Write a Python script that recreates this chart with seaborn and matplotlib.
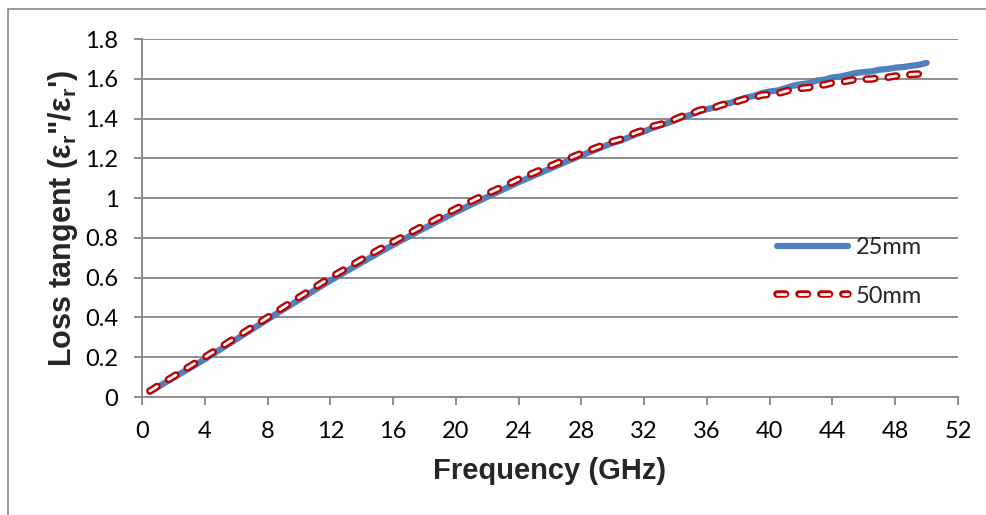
import matplotlib
matplotlib.use("Agg")
import matplotlib.pyplot as plt
from matplotlib.patches import Rectangle
from matplotlib.lines import Line2D
import seaborn as sns
import pandas as pd

# Measured loss tangent vs. frequency for two sample lengths
freq_25 = [0.5, 1, 2, 3, 4, 5, 6, 7, 8, 9, 10, 11, 12, 13, 14, 15, 16, 17, 18, 19,
           20, 21, 22, 23, 24, 25, 26, 27, 28, 29, 30, 30.5, 31, 31.5, 32, 32.5,
           33, 33.5, 34, 34.5, 35, 35.5, 36, 36.5, 37, 37.5, 38, 38.5, 39, 39.5,
           40, 40.5, 41, 41.5, 42, 42.5, 43, 43.5, 44, 44.5, 45, 45.5, 46, 46.5,
           47, 47.5, 48, 48.5, 49, 49.5, 50]
tan_25 = [0.027, 0.050, 0.097, 0.143, 0.190, 0.240, 0.290, 0.340, 0.390, 0.440,
          0.488, 0.537, 0.585, 0.631, 0.676, 0.721, 0.765, 0.807, 0.849, 0.890,
          0.930, 0.968, 1.006, 1.043, 1.080, 1.114, 1.148, 1.182, 1.215, 1.246,
          1.278, 1.289, 1.305, 1.322, 1.335, 1.352, 1.366, 1.377, 1.393, 1.408,
          1.420, 1.436, 1.447, 1.456, 1.471, 1.479, 1.493, 1.505, 1.514, 1.528,
          1.536, 1.541, 1.553, 1.565, 1.573, 1.578, 1.591, 1.596, 1.607, 1.611,
          1.620, 1.629, 1.634, 1.637, 1.646, 1.649, 1.656, 1.659, 1.665, 1.670,
          1.680]

freq_50 = [0.5, 1, 2, 3, 4, 5, 6, 7, 8, 9, 10, 11, 12, 13, 14, 15, 16, 17, 18, 19,
           20, 21, 22, 23, 24, 25, 26, 27, 28, 29, 30, 30.5, 31, 31.5, 32, 32.5,
           33, 33.5, 34, 34.5, 35, 35.5, 36, 36.5, 37, 37.5, 38, 38.5, 39, 39.5,
           40, 40.5, 41, 41.5, 42, 42.5, 43, 43.5, 44, 44.5, 45, 45.5, 46, 46.5,
           47, 47.5, 48, 48.5, 49, 49.5, 50]
tan_50 = [0.030, 0.055, 0.103, 0.152, 0.200, 0.250, 0.300, 0.350, 0.400, 0.451,
          0.501, 0.551, 0.600, 0.646, 0.692, 0.737, 0.780, 0.822, 0.864, 0.905,
          0.946, 0.985, 1.022, 1.058, 1.095, 1.128, 1.161, 1.193, 1.225, 1.255,
          1.285, 1.296, 1.313, 1.330, 1.342, 1.360, 1.370, 1.380, 1.398, 1.414,
          1.424, 1.441, 1.450, 1.456, 1.470, 1.476, 1.488, 1.500, 1.505, 1.518,
          1.522, 1.526, 1.537, 1.548, 1.552, 1.556, 1.566, 1.570, 1.580, 1.582,
          1.590, 1.597, 1.598, 1.599, 1.606, 1.607, 1.614, 1.613, 1.622, 1.624,
          1.635]

series_labels = ["25mm", "50mm"]
x_ticks = list(range(0, 53, 4))
y_ticks = [0, 0.2, 0.4, 0.6, 0.8, 1, 1.2, 1.4, 1.6, 1.8]
y_tick_labels = ["0", "0.2", "0.4", "0.6", "0.8", "1", "1.2", "1.4", "1.6", "1.8"]

BLUE = "#4F81BD"
RED = "#C00000"
GRID = "#8C8C8C"

sns.set_theme(style="white")
plt.rcParams["font.family"] = ["Lato", "DejaVu Sans"]
plt.rcParams["lines.scale_dashes"] = False
plt.rcParams["mathtext.fontset"] = "custom"
plt.rcParams["mathtext.bf"] = "Liberation Sans:bold"
plt.rcParams["mathtext.rm"] = "Liberation Sans:bold"

df25 = pd.DataFrame({"freq": freq_25, "tan": tan_25})
df50 = pd.DataFrame({"freq": freq_50, "tan": tan_50})

fig = plt.figure(figsize=(9.86, 5.15), dpi=100)
ax = fig.add_axes([142 / 986, 1 - 397 / 515, (958 - 142) / 986, (397 - 39) / 515])

# chart frame
fig.patches.append(Rectangle((8 / 986, -0.1), 1.2, 1.1 - 9 / 515, transform=fig.transFigure,
                             fill=False, edgecolor="#8A8A8A", linewidth=1.2, zorder=0))

sns.lineplot(data=df25, x="freq", y="tan", ax=ax, color=BLUE, linewidth=4.5,
             solid_capstyle="round", solid_joinstyle="round", zorder=3)
dash = (0, (6.2, 9.6))
sns.lineplot(data=df50, x="freq", y="tan", ax=ax, color=RED, linewidth=5.4,
             linestyle=dash, dash_capstyle="round", zorder=4)
sns.lineplot(data=df50, x="freq", y="tan", ax=ax, color="white", linewidth=2.0,
             linestyle=dash, dash_capstyle="round", zorder=5)

ax.set_xlim(0, 52)
ax.set_ylim(0, 1.8)
ax.set_xticks(x_ticks)
ax.set_xticklabels([str(t) for t in x_ticks])
ax.set_yticks(y_ticks)
ax.set_yticklabels(y_tick_labels)
ax.yaxis.grid(True, color=GRID, linewidth=1.4)
ax.xaxis.grid(False)
ax.set_axisbelow(True)

for side in ["top", "right"]:
    ax.spines[side].set_visible(False)
for side in ["left", "bottom"]:
    ax.spines[side].set_color(GRID)
    ax.spines[side].set_linewidth(1.4)

ax.tick_params(axis="both", which="major", direction="out", length=6, width=1.4,
               color=GRID, labelsize=17, labelcolor="black", left=True, bottom=True)
ax.tick_params(axis="y", pad=11)
ax.tick_params(axis="x", pad=11)

ax.set_xlabel("Frequency (GHz)", fontsize=21, fontweight="bold",
              family="Liberation Sans", labelpad=11)
ax.set_ylabel("Loss tangent (ε$_\\mathbf{r}$\"/ε$_\\mathbf{r}$')", fontsize=22,
              fontweight="bold", family="Liberation Sans", labelpad=4)

h25 = Line2D([], [], color=BLUE, linewidth=4.5, solid_capstyle="round")
h50a = Line2D([], [], color=RED, linewidth=5.4, linestyle=dash, dash_capstyle="round")
h50b = Line2D([], [], color="white", linewidth=2.0, linestyle=dash, dash_capstyle="round")
leg = ax.legend([h25, (h50a, h50b)], series_labels, frameon=False, fontsize=17,
                loc="center left", bbox_to_anchor=(777 / 986, 1 - 272 / 515),
                bbox_transform=fig.transFigure, handlelength=3.0, handletextpad=0.35,
                labelspacing=1.15, borderpad=0, borderaxespad=0)

fig.savefig("out.png", dpi=100)
